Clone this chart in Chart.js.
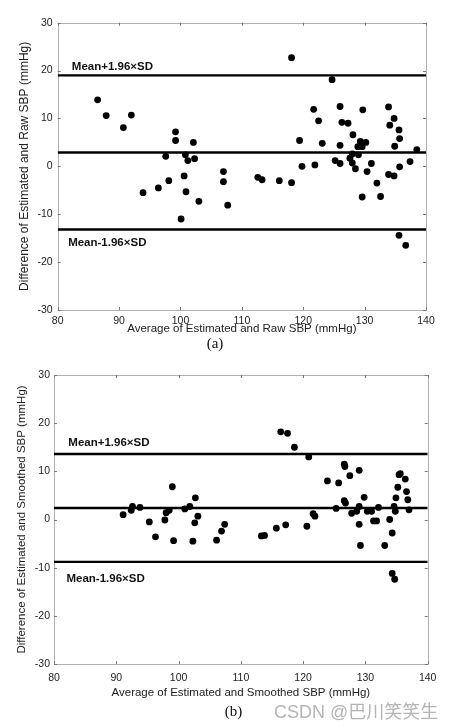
<!DOCTYPE html>
<html><head><meta charset="utf-8">
<script src="https://cdn.jsdelivr.net/npm/chart.js@4.4.0/dist/chart.umd.min.js"></script>
<style>
html,body{margin:0;padding:0;background:#fff;width:460px;height:728px;overflow:hidden;position:relative;}
canvas{position:absolute;left:0;}
#c1{top:0}
#c2{top:360px}
.cap{position:absolute;font-family:"Liberation Serif","Times New Roman",serif;font-size:15px;color:#111;transform:translate(-50%,-50%);white-space:nowrap;}
.wm{position:absolute;left:274px;top:710px;transform:translateY(-50%);font-family:"Liberation Sans","Noto Sans CJK SC",sans-serif;font-size:18px;color:#b4b4b4;white-space:nowrap;}
.wm span{font-family:"Noto Sans CJK SC",sans-serif;}
</style></head>
<body>
<canvas id="c1" width="460" height="360"></canvas>
<canvas id="c2" width="460" height="368"></canvas>
<div class="cap" style="left:215px;top:343px">(a)</div>
<div class="cap" style="left:233.5px;top:711px">(b)</div>
<div class="wm">CSDN @<span>巴川笑笑生</span></div>
<script>
// ---- shared tick values ----
const xTicks = [80, 90, 100, 110, 120, 130, 140];
const yTicks = [-30, -20, -10, 0, 10, 20, 30];
const limitLabels = ['Mean+1.96\u00d7SD', 'Mean-1.96\u00d7SD'];

// ---- (a) Estimated vs Raw SBP ----
const rawAvg = [86.5, 87.9, 90.7, 92.0, 99.2, 99.2, 102.1, 97.6, 100.8, 102.3, 101.2, 100.6, 98.1, 96.4, 93.9, 100.9, 103.0, 100.1,
  107.0, 107.0, 107.7, 112.6, 113.3, 116.1, 118.1, 118.1, 119.4, 119.8, 121.7, 122.5, 121.9, 123.1, 124.7, 125.2, 126.0, 126.0,
  126.3, 127.3, 126.0, 127.6, 128.0, 128.0, 128.1, 128.5, 128.9, 129.0, 129.3, 129.6, 129.7, 130.2, 130.4, 129.6, 131.1, 132.0,
  132.6, 133.9, 134.1, 134.8, 135.6, 135.7, 134.9, 133.9, 134.8, 135.7, 137.4, 138.5, 135.6, 136.7];
const rawDiff = [13.9, 10.6, 8.1, 10.7, 7.2, 5.4, 5.0, 2.1, 2.4, 1.6, 1.2, -2.0, -3.0, -4.5, -5.5, -5.3, -7.3, -11.0,
  -1.1, -3.2, -8.1, -2.3, -2.8, -3.0, -3.4, 22.7, 5.4, 0.0, 11.9, 9.5, 0.3, 4.8, 18.1, 1.2, 0.6, 12.5,
  9.2, 9.0, 4.4, 1.7, 0.7, 2.6, 6.6, -0.5, 4.1, 2.4, 5.2, 4.1, 11.8, 5.0, -1.1, -6.4, 0.6, -3.5,
  -6.3, 12.4, 8.6, 10.0, 7.6, 5.8, 4.2, -1.7, -2.0, -0.1, 1.0, 3.5, -14.4, -16.5];
const rawLimits = [19.0, 2.9, -13.2]; // upper, mean, lower

// ---- (b) Estimated vs Smoothed SBP ----
const smAvg = [91.1, 92.4, 92.6, 93.8, 95.3, 96.3, 97.8, 98.0, 98.5, 99.0, 99.2, 101.0, 101.8, 102.7, 103.1, 102.6, 102.3, 106.1,
  106.9, 107.4, 113.3, 113.8, 115.7, 116.4, 117.5, 117.2, 118.6, 120.6, 120.9, 121.6, 121.9, 123.9, 125.3, 125.7, 126.6, 126.7,
  126.6, 126.8, 127.5, 127.8, 128.6, 129.0, 129.0, 129.8, 129.0, 129.2, 130.3, 131.0, 131.3, 131.8, 132.1, 133.1, 133.9, 134.3,
  134.6, 134.8, 134.9, 135.2, 135.4, 135.6, 136.4, 136.6, 136.8, 137.0, 134.3, 134.7];
const smDiff = [1.0, 1.9, 2.7, 2.5, -0.5, -3.6, -0.1, 1.4, 1.9, 6.8, -4.4, 2.2, 2.7, 4.5, 0.7, -0.7, -4.5, -4.3,
  -2.4, -1.0, -3.4, -3.3, -1.8, 18.2, 17.9, -1.1, 15.0, -1.4, 13.0, 1.2, 0.7, 8.0, 2.3, 7.6, 11.5, 11.0,
  3.9, 3.4, 9.1, 1.3, 1.7, 2.7, 10.2, 4.6, -1.0, -5.4, 1.7, 1.7, -0.3, -0.3, 2.5, -5.4, 0.0, -2.8,
  2.7, 1.7, 4.5, 6.7, 9.3, 9.5, 8.4, 5.8, 4.1, 2.0, -11.2, -12.4];
const smLimits = [13.6, 2.4, -8.8];

const FONT = 'Arial, "Liberation Sans", Helvetica, sans-serif';

function makeChart(id, avg, diff, limits, yTitle, xTitle, g) {
  const pts = avg.map((x, i) => ({x: x, y: diff[i]}));
  const xMin = xTicks[0], xMax = xTicks[xTicks.length - 1];
  const lineSets = limits.map(v => ({
    type: 'line', data: [{x: xMin, y: v}, {x: xMax, y: v}],
    borderColor: '#000', borderWidth: 2.4, pointRadius: 0, fill: false, order: 2
  }));
  const decor = {
    id: 'decor' + id,
    beforeDatasetsDraw(chart) {
      const {ctx, chartArea: a, scales: {x, y}} = chart;
      ctx.save();
      ctx.strokeStyle = '#b0b0b0';
      ctx.lineWidth = 1;
      ctx.strokeRect(Math.round(a.left) + 0.5, Math.round(a.top) + 0.5, Math.round(a.right - a.left), Math.round(a.bottom - a.top));
      ctx.strokeStyle = '#777';
      ctx.beginPath();
      xTicks.forEach(v => {
        const px = Math.round(x.getPixelForValue(v)) + 0.5;
        ctx.moveTo(px, a.bottom); ctx.lineTo(px, a.bottom - 3);
        ctx.moveTo(px, a.top); ctx.lineTo(px, a.top + 3);
      });
      yTicks.forEach(v => {
        const py = Math.round(y.getPixelForValue(v)) + 0.5;
        ctx.moveTo(a.left, py); ctx.lineTo(a.left + 3, py);
        ctx.moveTo(a.right, py); ctx.lineTo(a.right - 3, py);
      });
      ctx.stroke();
      ctx.restore();
    },
    afterDatasetsDraw(chart) {
      const {ctx, scales: {x, y}} = chart;
      ctx.save();
      ctx.fillStyle = '#111';
      ctx.font = 'bold 11.5px ' + FONT;
      ctx.textAlign = 'left';
      ctx.textBaseline = 'middle';
      ctx.fillText(limitLabels[0], x.getPixelForValue(g.upLabelX), y.getPixelForValue(limits[0]) + g.upOff);
      ctx.fillText(limitLabels[1], x.getPixelForValue(g.loLabelX), y.getPixelForValue(limits[2]) + g.loOff);
      ctx.restore();
    }
  };
  return new Chart(document.getElementById(id), {
    type: 'scatter',
    data: {
      datasets: [{
        type: 'scatter', data: pts, backgroundColor: '#000', borderWidth: 0,
        pointRadius: 3.4, pointHoverRadius: 3.4, order: 1
      }].concat(lineSets)
    },
    options: {
      responsive: false, animation: false, devicePixelRatio: 1,
      layout: {padding: g.pad},
      plugins: {legend: {display: false}, tooltip: {enabled: false}},
      scales: {
        x: {
          type: 'linear', min: xMin, max: xMax,
          afterBuildTicks: s => { s.ticks = xTicks.map(v => ({value: v})); },
          afterFit: s => { s.height = g.xH; },
          grid: {display: false, drawTicks: false}, border: {display: false},
          ticks: {padding: g.xTickPad, color: '#222', font: {family: FONT, size: 10.5}, maxRotation: 0, autoSkip: false},
          title: {display: true, text: xTitle, color: '#222', font: {family: FONT, size: 11.5}, padding: {top: 0, bottom: g.xTitlePad}}
        },
        y: {
          type: 'linear', min: yTicks[0], max: yTicks[yTicks.length - 1],
          afterBuildTicks: s => { s.ticks = yTicks.map(v => ({value: v})); },
          afterFit: s => { s.width = g.yW; },
          grid: {display: false, drawTicks: false}, border: {display: false},
          ticks: {padding: g.yTickPad, color: '#222', font: {family: FONT, size: 10.5}, autoSkip: false},
          title: {display: true, text: yTitle, color: '#222', font: {family: FONT, size: g.yTitleSize}, padding: {top: g.yTitlePad, bottom: 0}}
        }
      }
    },
    plugins: [decor]
  });
}

makeChart('c1', rawAvg, rawDiff, rawLimits,
  'Difference of Estimated and Raw SBP (mmHg)', 'Average of Estimated and Raw SBP (mmHg)',
  {pad: {left: 0, top: 22.7, right: 34, bottom: 0}, xH: 50, yW: 57.7, xTickPad: 4.5, yTickPad: 5,
   xTitlePad: 24.6, yTitlePad: 17.8, yTitleSize: 12, upLabelX: 82.3, upOff: -8.6, loLabelX: 81.7, loOff: 13.4});

makeChart('c2', smAvg, smDiff, smLimits,
  'Difference of Estimated and Smoothed SBP (mmHg)', 'Average of Estimated and Smoothed SBP (mmHg)',
  {pad: {left: 0, top: 15, right: 32.3, bottom: 0}, xH: 64, yW: 54, xTickPad: 8, yTickPad: 4,
   xTitlePad: 28.6, yTitlePad: 14.8, yTitleSize: 11.5, upLabelX: 82.3, upOff: -10.7, loLabelX: 82.0, loOff: 17});
</script>
</body></html>
